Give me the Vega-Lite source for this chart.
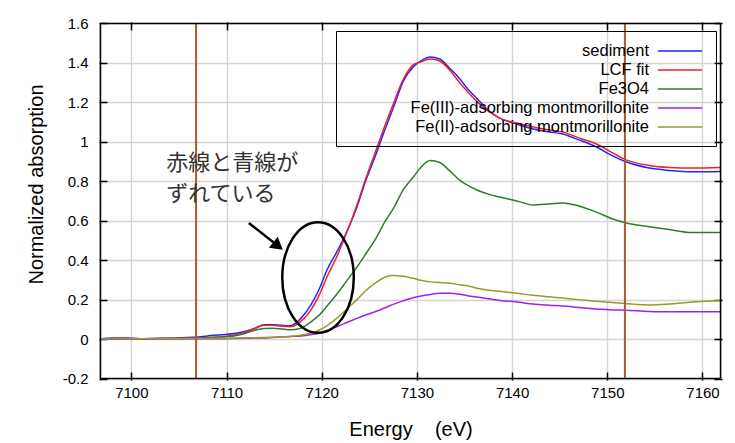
{
  "$schema": "https://vega.github.io/schema/vega-lite/v6.json",
  "width": 623,
  "height": 358,
  "autosize": {"type": "none"},
  "padding": {"left": 99, "top": 22, "right": 13, "bottom": 63},
  "background": "white",
  "config": {
    "font": "Liberation Sans",
    "view": {"stroke": "transparent", "strokeWidth": 0},
    "style": {"cell": {"stroke": "transparent", "strokeWidth": 0}},
    "axis": {"labelFont": "Liberation Sans", "labelFontSize": 15, "labelColor": "black", "titleFont": "Liberation Sans", "titleFontWeight": "normal", "titleColor": "black", "titleFontSize": 20, "tickColor": "black", "tickWidth": 1.5, "gridColor": "#d4d4d4", "gridWidth": 1.4, "domain": false}
  },
  "datasets": {
    "xas": [
      {"e": 7096.8, "sediment": 0.002, "LCF fit": 0.001, "Fe3O4": 0.000, "Fe(III)-adsorbing montmorillonite": 0.000, "Fe(II)-adsorbing montmorillonite": 0.000},
      {"e": 7098.0, "sediment": 0.006, "LCF fit": 0.001, "Fe3O4": 0.000, "Fe(III)-adsorbing montmorillonite": 0.000, "Fe(II)-adsorbing montmorillonite": 0.001},
      {"e": 7099.5, "sediment": 0.005, "LCF fit": 0.002, "Fe3O4": 0.001, "Fe(III)-adsorbing montmorillonite": 0.000, "Fe(II)-adsorbing montmorillonite": 0.001},
      {"e": 7101.0, "sediment": 0.002, "LCF fit": 0.002, "Fe3O4": 0.001, "Fe(III)-adsorbing montmorillonite": 0.000, "Fe(II)-adsorbing montmorillonite": 0.001},
      {"e": 7103.0, "sediment": 0.004, "LCF fit": 0.003, "Fe3O4": 0.002, "Fe(III)-adsorbing montmorillonite": 0.001, "Fe(II)-adsorbing montmorillonite": 0.002},
      {"e": 7105.0, "sediment": 0.006, "LCF fit": 0.004, "Fe3O4": 0.003, "Fe(III)-adsorbing montmorillonite": 0.001, "Fe(II)-adsorbing montmorillonite": 0.002},
      {"e": 7106.8, "sediment": 0.010, "LCF fit": 0.005, "Fe3O4": 0.004, "Fe(III)-adsorbing montmorillonite": 0.001, "Fe(II)-adsorbing montmorillonite": 0.003},
      {"e": 7108.0, "sediment": 0.016, "LCF fit": 0.008, "Fe3O4": 0.006, "Fe(III)-adsorbing montmorillonite": 0.002, "Fe(II)-adsorbing montmorillonite": 0.003},
      {"e": 7109.5, "sediment": 0.022, "LCF fit": 0.012, "Fe3O4": 0.010, "Fe(III)-adsorbing montmorillonite": 0.002, "Fe(II)-adsorbing montmorillonite": 0.004},
      {"e": 7111.0, "sediment": 0.030, "LCF fit": 0.022, "Fe3O4": 0.018, "Fe(III)-adsorbing montmorillonite": 0.003, "Fe(II)-adsorbing montmorillonite": 0.005},
      {"e": 7112.0, "sediment": 0.040, "LCF fit": 0.035, "Fe3O4": 0.030, "Fe(III)-adsorbing montmorillonite": 0.004, "Fe(II)-adsorbing montmorillonite": 0.006},
      {"e": 7113.0, "sediment": 0.055, "LCF fit": 0.055, "Fe3O4": 0.045, "Fe(III)-adsorbing montmorillonite": 0.005, "Fe(II)-adsorbing montmorillonite": 0.007},
      {"e": 7113.9, "sediment": 0.072, "LCF fit": 0.070, "Fe3O4": 0.054, "Fe(III)-adsorbing montmorillonite": 0.006, "Fe(II)-adsorbing montmorillonite": 0.008},
      {"e": 7114.8, "sediment": 0.072, "LCF fit": 0.070, "Fe3O4": 0.055, "Fe(III)-adsorbing montmorillonite": 0.008, "Fe(II)-adsorbing montmorillonite": 0.009},
      {"e": 7115.7, "sediment": 0.070, "LCF fit": 0.066, "Fe3O4": 0.052, "Fe(III)-adsorbing montmorillonite": 0.010, "Fe(II)-adsorbing montmorillonite": 0.010},
      {"e": 7116.7, "sediment": 0.068, "LCF fit": 0.062, "Fe3O4": 0.047, "Fe(III)-adsorbing montmorillonite": 0.013, "Fe(II)-adsorbing montmorillonite": 0.013},
      {"e": 7117.8, "sediment": 0.105, "LCF fit": 0.090, "Fe3O4": 0.055, "Fe(III)-adsorbing montmorillonite": 0.016, "Fe(II)-adsorbing montmorillonite": 0.020},
      {"e": 7118.8, "sediment": 0.168, "LCF fit": 0.143, "Fe3O4": 0.085, "Fe(III)-adsorbing montmorillonite": 0.022, "Fe(II)-adsorbing montmorillonite": 0.030},
      {"e": 7119.7, "sediment": 0.250, "LCF fit": 0.220, "Fe3O4": 0.120, "Fe(III)-adsorbing montmorillonite": 0.030, "Fe(II)-adsorbing montmorillonite": 0.045},
      {"e": 7120.6, "sediment": 0.355, "LCF fit": 0.320, "Fe3O4": 0.170, "Fe(III)-adsorbing montmorillonite": 0.045, "Fe(II)-adsorbing montmorillonite": 0.070},
      {"e": 7121.7, "sediment": 0.452, "LCF fit": 0.430, "Fe3O4": 0.235, "Fe(III)-adsorbing montmorillonite": 0.065, "Fe(II)-adsorbing montmorillonite": 0.110},
      {"e": 7122.7, "sediment": 0.552, "LCF fit": 0.550, "Fe3O4": 0.300, "Fe(III)-adsorbing montmorillonite": 0.085, "Fe(II)-adsorbing montmorillonite": 0.155},
      {"e": 7123.7, "sediment": 0.670, "LCF fit": 0.680, "Fe3O4": 0.365, "Fe(III)-adsorbing montmorillonite": 0.105, "Fe(II)-adsorbing montmorillonite": 0.200},
      {"e": 7124.6, "sediment": 0.800, "LCF fit": 0.810, "Fe3O4": 0.430, "Fe(III)-adsorbing montmorillonite": 0.122, "Fe(II)-adsorbing montmorillonite": 0.245},
      {"e": 7125.8, "sediment": 0.950, "LCF fit": 0.970, "Fe3O4": 0.520, "Fe(III)-adsorbing montmorillonite": 0.142, "Fe(II)-adsorbing montmorillonite": 0.290},
      {"e": 7126.7, "sediment": 1.070, "LCF fit": 1.090, "Fe3O4": 0.600, "Fe(III)-adsorbing montmorillonite": 0.160, "Fe(II)-adsorbing montmorillonite": 0.315},
      {"e": 7127.5, "sediment": 1.170, "LCF fit": 1.190, "Fe3O4": 0.660, "Fe(III)-adsorbing montmorillonite": 0.176, "Fe(II)-adsorbing montmorillonite": 0.322},
      {"e": 7128.6, "sediment": 1.310, "LCF fit": 1.320, "Fe3O4": 0.760, "Fe(III)-adsorbing montmorillonite": 0.195, "Fe(II)-adsorbing montmorillonite": 0.318},
      {"e": 7129.6, "sediment": 1.380, "LCF fit": 1.390, "Fe3O4": 0.820, "Fe(III)-adsorbing montmorillonite": 0.210, "Fe(II)-adsorbing montmorillonite": 0.308},
      {"e": 7130.4, "sediment": 1.410, "LCF fit": 1.405, "Fe3O4": 0.870, "Fe(III)-adsorbing montmorillonite": 0.218, "Fe(II)-adsorbing montmorillonite": 0.298},
      {"e": 7131.4, "sediment": 1.430, "LCF fit": 1.420, "Fe3O4": 0.905, "Fe(III)-adsorbing montmorillonite": 0.226, "Fe(II)-adsorbing montmorillonite": 0.290},
      {"e": 7132.4, "sediment": 1.420, "LCF fit": 1.410, "Fe3O4": 0.895, "Fe(III)-adsorbing montmorillonite": 0.232, "Fe(II)-adsorbing montmorillonite": 0.287},
      {"e": 7133.5, "sediment": 1.370, "LCF fit": 1.360, "Fe3O4": 0.850, "Fe(III)-adsorbing montmorillonite": 0.232, "Fe(II)-adsorbing montmorillonite": 0.283},
      {"e": 7134.5, "sediment": 1.320, "LCF fit": 1.300, "Fe3O4": 0.806, "Fe(III)-adsorbing montmorillonite": 0.227, "Fe(II)-adsorbing montmorillonite": 0.275},
      {"e": 7135.3, "sediment": 1.270, "LCF fit": 1.255, "Fe3O4": 0.780, "Fe(III)-adsorbing montmorillonite": 0.220, "Fe(II)-adsorbing montmorillonite": 0.270},
      {"e": 7136.3, "sediment": 1.220, "LCF fit": 1.205, "Fe3O4": 0.756, "Fe(III)-adsorbing montmorillonite": 0.213, "Fe(II)-adsorbing montmorillonite": 0.258},
      {"e": 7137.5, "sediment": 1.160, "LCF fit": 1.155, "Fe3O4": 0.735, "Fe(III)-adsorbing montmorillonite": 0.205, "Fe(II)-adsorbing montmorillonite": 0.248},
      {"e": 7138.7, "sediment": 1.120, "LCF fit": 1.120, "Fe3O4": 0.720, "Fe(III)-adsorbing montmorillonite": 0.196, "Fe(II)-adsorbing montmorillonite": 0.242},
      {"e": 7140.5, "sediment": 1.090, "LCF fit": 1.095, "Fe3O4": 0.700, "Fe(III)-adsorbing montmorillonite": 0.188, "Fe(II)-adsorbing montmorillonite": 0.232},
      {"e": 7142.2, "sediment": 1.065, "LCF fit": 1.075, "Fe3O4": 0.680, "Fe(III)-adsorbing montmorillonite": 0.178, "Fe(II)-adsorbing montmorillonite": 0.222},
      {"e": 7143.9, "sediment": 1.050, "LCF fit": 1.060, "Fe3O4": 0.685, "Fe(III)-adsorbing montmorillonite": 0.172, "Fe(II)-adsorbing montmorillonite": 0.214},
      {"e": 7145.3, "sediment": 1.040, "LCF fit": 1.050, "Fe3O4": 0.690, "Fe(III)-adsorbing montmorillonite": 0.168, "Fe(II)-adsorbing montmorillonite": 0.208},
      {"e": 7147.0, "sediment": 1.010, "LCF fit": 1.020, "Fe3O4": 0.675, "Fe(III)-adsorbing montmorillonite": 0.160, "Fe(II)-adsorbing montmorillonite": 0.200},
      {"e": 7148.8, "sediment": 0.975, "LCF fit": 0.990, "Fe3O4": 0.645, "Fe(III)-adsorbing montmorillonite": 0.153, "Fe(II)-adsorbing montmorillonite": 0.192},
      {"e": 7150.5, "sediment": 0.930, "LCF fit": 0.945, "Fe3O4": 0.610, "Fe(III)-adsorbing montmorillonite": 0.148, "Fe(II)-adsorbing montmorillonite": 0.185},
      {"e": 7151.9, "sediment": 0.900, "LCF fit": 0.910, "Fe3O4": 0.590, "Fe(III)-adsorbing montmorillonite": 0.146, "Fe(II)-adsorbing montmorillonite": 0.180},
      {"e": 7154.4, "sediment": 0.867, "LCF fit": 0.880, "Fe3O4": 0.570, "Fe(III)-adsorbing montmorillonite": 0.140, "Fe(II)-adsorbing montmorillonite": 0.173},
      {"e": 7156.5, "sediment": 0.855, "LCF fit": 0.870, "Fe3O4": 0.555, "Fe(III)-adsorbing montmorillonite": 0.138, "Fe(II)-adsorbing montmorillonite": 0.178},
      {"e": 7158.9, "sediment": 0.848, "LCF fit": 0.867, "Fe3O4": 0.540, "Fe(III)-adsorbing montmorillonite": 0.138, "Fe(II)-adsorbing montmorillonite": 0.188},
      {"e": 7161.9, "sediment": 0.850, "LCF fit": 0.870, "Fe3O4": 0.540, "Fe(III)-adsorbing montmorillonite": 0.138, "Fe(II)-adsorbing montmorillonite": 0.196}
    ],
    "markers": [{"e": 7106.8}, {"e": 7151.85}],
    "one": [{"id": 1}]
  },
  "layer": [
    {
      "data": {"name": "xas"},
      "transform": [{"fold": ["sediment", "LCF fit", "Fe3O4", "Fe(III)-adsorbing montmorillonite", "Fe(II)-adsorbing montmorillonite"], "as": ["series", "a"]}],
      "mark": {"type": "line", "strokeWidth": 1.5, "interpolate": "monotone"},
      "encoding": {
        "x": {"field": "e", "type": "quantitative", "scale": {"domain": [7096.6, 7162.05], "nice": false, "zero": false},
          "axis": {"orient": "bottom", "values": [7100, 7110, 7120, 7130, 7140, 7150, 7160], "format": "d", "grid": true, "tickSize": -8, "labelPadding": 13, "title": "Energy\u00a0\u00a0\u00a0\u00a0(eV)", "titlePadding": 19}},
        "y": {"field": "a", "type": "quantitative", "scale": {"domain": [-0.2075, 1.6075], "nice": false, "zero": false},
          "axis": {"orient": "left", "values": [-0.2, 0, 0.2, 0.4, 0.6, 0.8, 1, 1.2, 1.4, 1.6], "labelExpr": "replace(format(datum.value, '.1~f'), '\u2212', '-')", "grid": true, "tickSize": -8, "labelPadding": 19, "title": "Normalized absorption", "titlePadding": 16, "titleY": 162}},
        "color": {"field": "series", "type": "nominal",
          "scale": {"domain": ["sediment", "LCF fit", "Fe3O4", "Fe(III)-adsorbing montmorillonite", "Fe(II)-adsorbing montmorillonite"], "range": ["#2424ff", "#f0202a", "#2e7d2e", "#a020f0", "#9a9a28"]},
          "legend": {"orient": "none", "legendX": 237, "legendY": 9, "title": null,
            "symbolType": "M-2.45,0H2.45", "symbolSize": 324, "symbolStrokeWidth": 1.5, "labelAlign": "right", "labelOffset": -41, "symbolOffset": 324,
            "labelFontSize": 16.5, "labelFont": "Liberation Sans", "labelColor": "black", "labelLimit": 400, "strokeColor": "black", "padding": 10, "rowPadding": 0}}
      }
    },
    {
      "data": {"name": "markers"},
      "mark": {"type": "rule", "color": "#b0582a", "strokeWidth": 2},
      "encoding": {"x": {"field": "e", "type": "quantitative", "axis": null}, "y": {"datum": -0.2, "type": "quantitative", "axis": null}, "y2": {"datum": 1.6}}
    },
    {
      "data": {"name": "one"},
      "mark": {"type": "rule", "color": "black", "strokeWidth": 1.6},
      "encoding": {"x": {"datum": 7096.75, "type": "quantitative", "axis": {"orient": "top", "values": [7100, 7110, 7120, 7130, 7140, 7150, 7160], "labels": false, "grid": false, "tickSize": -8, "title": null}}, "x2": {"datum": 7161.9}, "y": {"datum": 1.6, "type": "quantitative", "axis": null}}
    },
    {
      "data": {"name": "one"},
      "mark": {"type": "rule", "color": "black", "strokeWidth": 1.6},
      "encoding": {"x": {"datum": 7096.75, "type": "quantitative", "axis": null}, "x2": {"datum": 7161.9}, "y": {"datum": -0.2, "type": "quantitative", "axis": null}}
    },
    {
      "data": {"name": "one"},
      "mark": {"type": "rule", "color": "black", "strokeWidth": 1.6},
      "encoding": {"x": {"datum": 7161.9, "type": "quantitative", "axis": null}, "y": {"datum": -0.2, "type": "quantitative", "axis": {"orient": "right", "values": [-0.2, 0, 0.2, 0.4, 0.6, 0.8, 1, 1.2, 1.4, 1.6], "labels": false, "grid": false, "tickSize": -8, "title": null}}, "y2": {"datum": 1.6}}
    },
    {
      "data": {"name": "one"},
      "mark": {"type": "rule", "color": "black", "strokeWidth": 1.6},
      "encoding": {"x": {"datum": 7096.75, "type": "quantitative", "axis": null}, "y": {"datum": -0.2, "type": "quantitative", "axis": null}, "y2": {"datum": 1.6}}
    },
    {
      "data": {"name": "one"},
      "mark": {"type": "point", "shape": "M0,-1A0.647,1 0 1,1 0,1A0.647,1 0 1,1 0,-1Z", "size": 12232, "filled": false, "stroke": "black", "strokeWidth": 2.5, "opacity": 1},
      "encoding": {"x": {"datum": 7119.61, "type": "quantitative", "axis": null}, "y": {"datum": 0.312, "type": "quantitative", "axis": null}}
    },
    {
      "data": {"name": "one"},
      "mark": {"type": "rule", "color": "black", "strokeWidth": 2.5},
      "encoding": {"x": {"datum": 7112.34, "type": "quantitative", "axis": null}, "y": {"datum": 0.589, "type": "quantitative", "axis": null}, "x2": {"datum": 7115.41}, "y2": {"datum": 0.472}}
    },
    {
      "data": {"name": "one"},
      "mark": {"type": "point", "shape": "triangle-up", "angle": 128.5, "size": 196, "filled": true, "color": "black", "opacity": 1},
      "encoding": {"x": {"datum": 7115.41, "type": "quantitative", "axis": null}, "y": {"datum": 0.472, "type": "quantitative", "axis": null}}
    },
    {
      "data": {"name": "one"},
      "mark": {"type": "text", "text": "赤線と青線が\nずれている", "lineBreak": "\n", "lineHeight": 31, "align": "left", "baseline": "top", "font": "Noto Sans CJK JP", "fontSize": 22, "color": "#333333"},
      "encoding": {"x": {"datum": 7103.66, "type": "quantitative", "axis": null}, "y": {"datum": 0.945, "type": "quantitative", "axis": null}}
    }
  ],
  "resolve": {"axis": {"x": "independent", "y": "independent"}}
}
